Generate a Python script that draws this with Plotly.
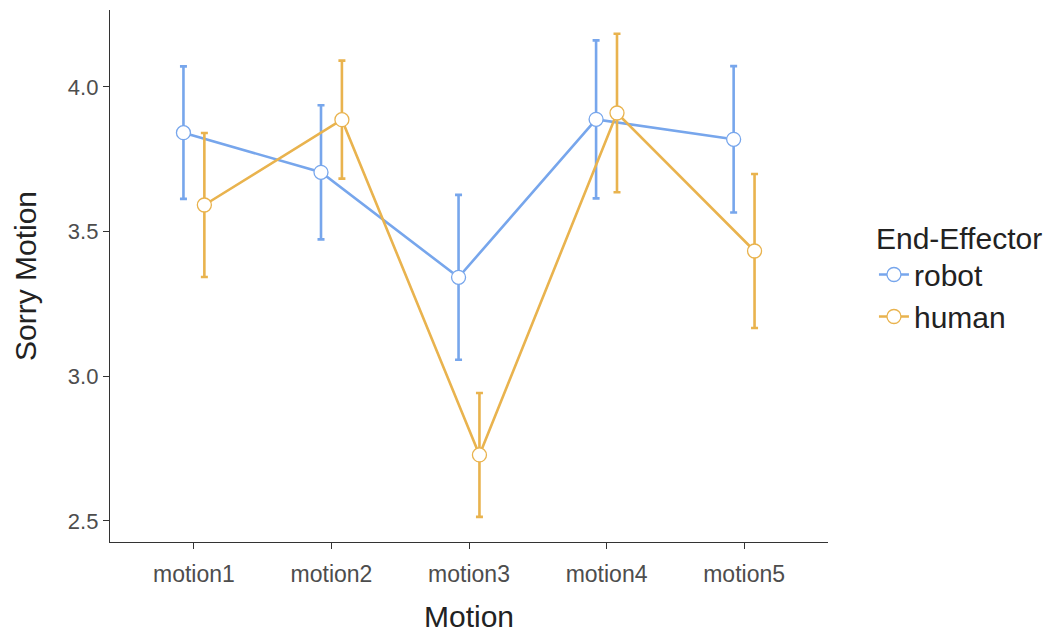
import plotly.graph_objects as go

# Motion conditions and group means with their error half-widths
motions = ["motion1", "motion2", "motion3", "motion4", "motion5"]
robot_mean = [3.842, 3.705, 3.342, 3.888, 3.819]
robot_err = [0.229, 0.232, 0.285, 0.273, 0.253]
human_mean = [3.592, 3.887, 2.728, 3.910, 3.433]
human_err = [0.249, 0.204, 0.214, 0.274, 0.266]

groups = ["robot", "human"]
colors = {"robot": "#77A6EC", "human": "#E9B34E"}
dodge = {"robot": -0.076, "human": 0.076}
means = {"robot": robot_mean, "human": human_mean}
errs = {"robot": robot_err, "human": human_err}

fig = go.Figure()
for g in groups:
    xs = [i + 1 + dodge[g] for i in range(len(motions))]
    fig.add_trace(go.Scatter(
        x=xs, y=means[g], name=g, mode="lines+markers",
        line=dict(color=colors[g], width=2.6),
        marker=dict(size=14, color="white", line=dict(color=colors[g], width=1.3)),
        error_y=dict(type="data", array=errs[g], visible=True,
                     color=colors[g], thickness=2.6, width=3.5),
        customdata=motions,
        hovertemplate="%{customdata}: %{y:.2f}<extra>" + g + "</extra>",
    ))

family = "Liberation Sans, Arial, sans-serif"
title_font = dict(family=family, size=30, color="#222222")

fig.update_layout(
    width=1056, height=635,
    margin=dict(l=110, r=228, t=10, b=93),
    plot_bgcolor="white", paper_bgcolor="white",
    font=dict(family=family),
    xaxis=dict(
        range=[0.39, 5.61], tickvals=[1, 2, 3, 4, 5], ticktext=motions,
        showgrid=False, zeroline=False, showline=True, linecolor="#333333", linewidth=1.3,
        ticks="outside", ticklen=6, tickcolor="#333333", tickwidth=1.3,
        tickfont=dict(family=family, size=23, color="#4D4D4D"),
        ticklabelstandoff=5, automargin=False,
        title=dict(text="Motion", font=title_font, standoff=20),
    ),
    yaxis=dict(
        range=[2.427, 4.266], tickvals=[2.5, 3.0, 3.5, 4.0], tickformat=".1f",
        showgrid=False, zeroline=False, showline=True, linecolor="#333333", linewidth=1.3,
        ticks="outside", ticklen=6, tickcolor="#333333", tickwidth=1.3,
        tickfont=dict(family=family, size=22, color="#4D4D4D"),
        automargin=False,
        title=dict(text="Sorry Motion", font=title_font, standoff=22),
    ),
    legend=dict(
        title=dict(text="End-Effector", font=title_font),
        font=dict(family=family, size=30, color="#222222"),
        x=1.064, y=0.50, xanchor="left", yanchor="middle",
        bgcolor="rgba(0,0,0,0)", tracegroupgap=0,
    ),
    showlegend=True,
)

fig.write_html("out.html")
